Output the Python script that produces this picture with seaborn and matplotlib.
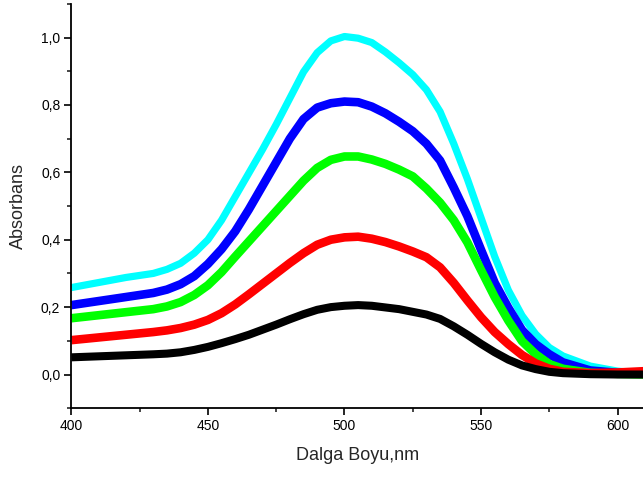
import matplotlib
matplotlib.use("Agg")
import matplotlib.pyplot as plt
from matplotlib.ticker import MultipleLocator, FuncFormatter
import seaborn as sns
import pandas as pd

# Wavelength grid (nm)
wavelength = [400, 410, 420, 430, 435, 440, 445, 450, 455, 460, 465, 470, 475, 480,
              485, 490, 495, 500, 505, 510, 515, 520, 525, 530, 535, 540, 545,
              550, 555, 560, 565, 570, 575, 580, 590, 600, 610]

# Absorbance spectra, one per concentration
abs_cyan = [0.258, 0.273, 0.288, 0.300, 0.312, 0.330, 0.360, 0.400, 0.458, 0.528, 0.598,
            0.668, 0.742, 0.820, 0.898, 0.955, 0.990, 1.003, 0.998, 0.985, 0.957,
            0.925, 0.890, 0.845, 0.780, 0.685, 0.580, 0.465, 0.350, 0.250, 0.175,
            0.120, 0.080, 0.055, 0.025, 0.010, 0.003]
abs_blue = [0.206, 0.218, 0.230, 0.242, 0.252, 0.268, 0.292, 0.328, 0.372, 0.425, 0.490,
            0.560, 0.630, 0.700, 0.758, 0.792, 0.805, 0.810, 0.808, 0.795, 0.775,
            0.750, 0.722, 0.685, 0.635, 0.555, 0.470, 0.370, 0.272, 0.198, 0.132,
            0.090, 0.060, 0.036, 0.012, 0.005, 0.003]
abs_green = [0.167, 0.176, 0.185, 0.194, 0.202, 0.215, 0.236, 0.265, 0.304, 0.350, 0.395,
             0.440, 0.485, 0.530, 0.575, 0.613, 0.637, 0.647, 0.647, 0.638, 0.625,
             0.608, 0.588, 0.552, 0.510, 0.458, 0.392, 0.310, 0.230, 0.160, 0.099,
             0.060, 0.031, 0.017, 0.005, 0.002, 0.000]
abs_red = [0.102, 0.110, 0.118, 0.126, 0.131, 0.138, 0.148, 0.162, 0.182, 0.208, 0.238,
           0.269, 0.300, 0.331, 0.360, 0.385, 0.400, 0.407, 0.409, 0.403, 0.393,
           0.380, 0.365, 0.348, 0.318, 0.272, 0.220, 0.170, 0.126, 0.090, 0.058,
           0.033, 0.017, 0.008, 0.004, 0.006, 0.010]
abs_black = [0.051, 0.054, 0.057, 0.060, 0.062, 0.066, 0.073, 0.082, 0.093, 0.105, 0.118,
             0.133, 0.148, 0.164, 0.179, 0.192, 0.200, 0.204, 0.206, 0.204, 0.199,
             0.194, 0.186, 0.178, 0.165, 0.143, 0.118, 0.091, 0.066, 0.044, 0.027,
             0.016, 0.008, 0.004, 0.001, 0.000, 0.000]

series = [
    (abs_cyan, "#00ffff", 5.2),
    (abs_blue, "#0000ff", 6.2),
    (abs_green, "#00ff00", 6.2),
    (abs_red, "#ff0000", 6.2),
    (abs_black, "#000000", 5.8),
]

sns.set_style("ticks")
plt.rcParams["font.family"] = ["Liberation Sans", "DejaVu Sans"]

fig = plt.figure(figsize=(6.43, 4.78), dpi=100)
ax = fig.add_axes([0.111, 0.146, 0.889, 0.846])

for values, color, lw in series:
    df = pd.DataFrame({"nm": wavelength, "A": values})
    sns.lineplot(data=df, x="nm", y="A", ax=ax, color=color, linewidth=lw,
                 sort=False, solid_joinstyle="round", solid_capstyle="butt")

ax.set_xlim(400, 609.3)
ax.set_ylim(-0.1, 1.1)

ax.xaxis.set_major_locator(MultipleLocator(50))
ax.xaxis.set_minor_locator(MultipleLocator(25))
ax.yaxis.set_major_locator(MultipleLocator(0.2))
ax.yaxis.set_minor_locator(MultipleLocator(0.1))
ax.yaxis.set_major_formatter(FuncFormatter(lambda v, p: f"{v:.1f}".replace(".", ",").replace("-0,0", "0,0")))

ax.tick_params(which="major", direction="out", length=5, width=1.2, labelsize=10, pad=3, colors="black")
ax.tick_params(which="minor", direction="out", length=3, width=1.2)

for side in ["top", "right"]:
    ax.spines[side].set_visible(False)
for side in ["left", "bottom"]:
    ax.spines[side].set_linewidth(1.3)
    ax.spines[side].set_color("black")

ax.set_xlabel("Dalga Boyu,nm", fontsize=13, labelpad=10)
ax.set_ylabel("Absorbans", fontsize=13, labelpad=10)

fig.savefig("out.png", dpi=100)
